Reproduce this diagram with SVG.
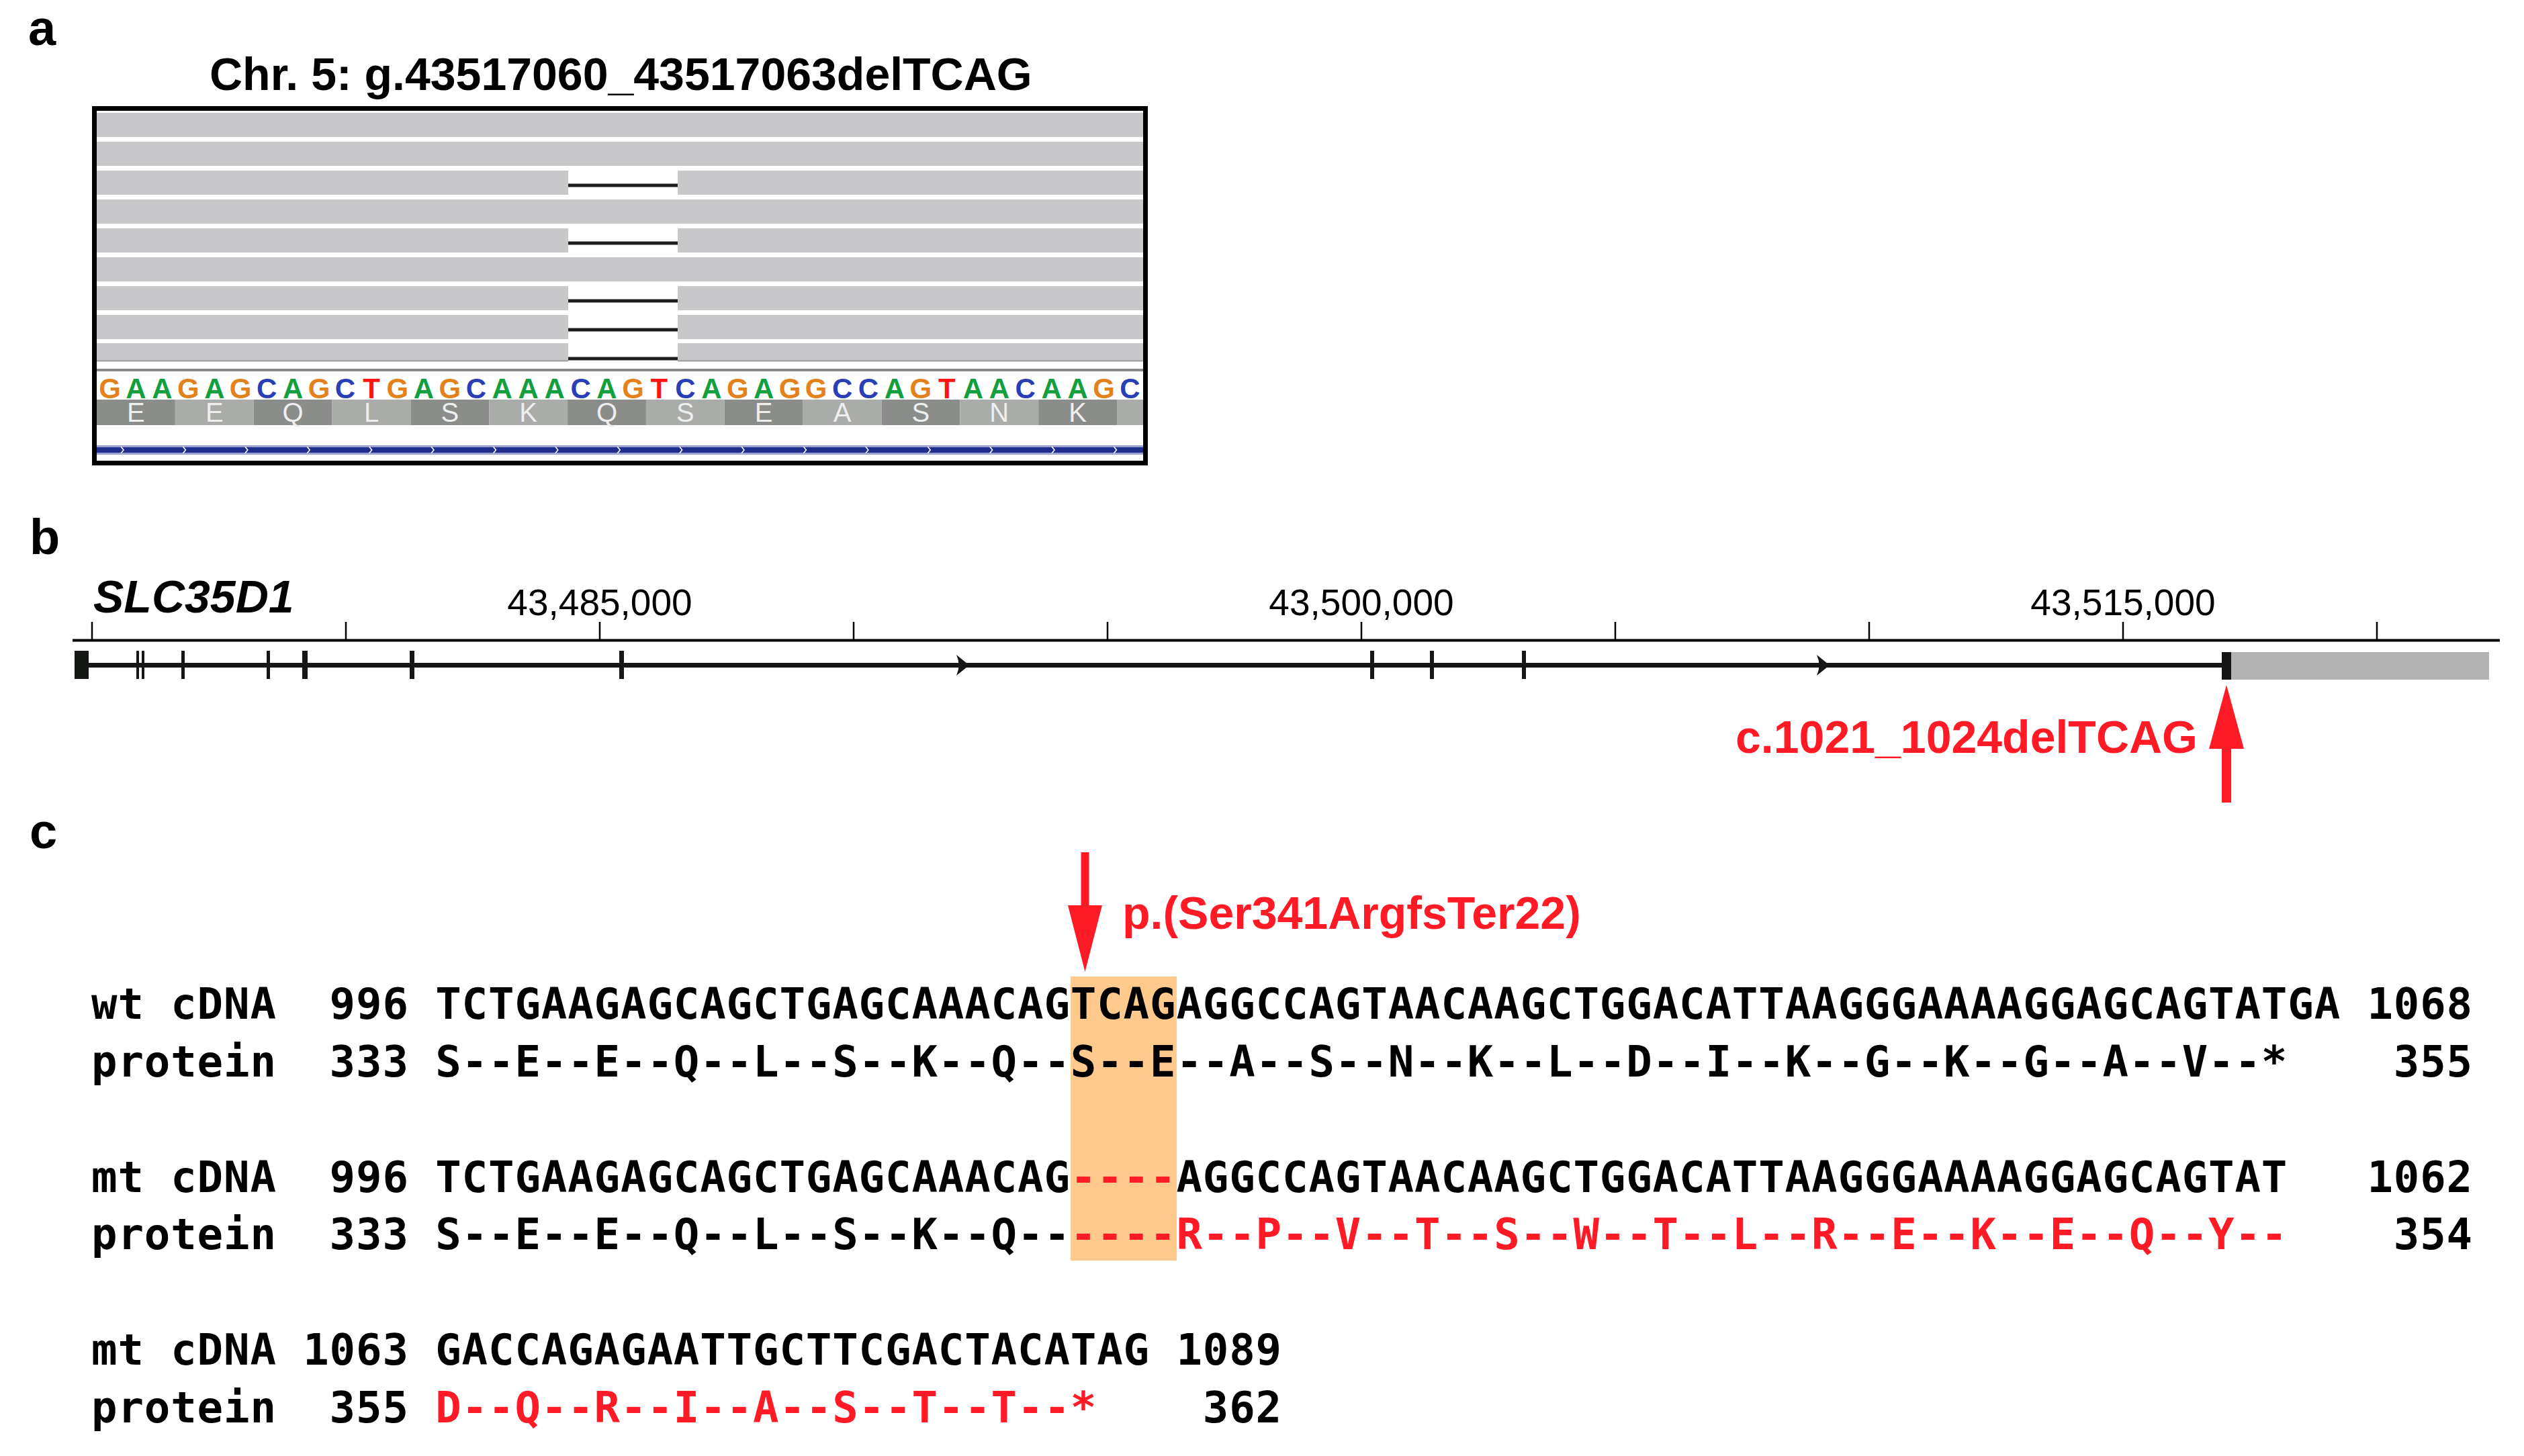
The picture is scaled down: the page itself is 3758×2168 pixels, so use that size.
<svg xmlns="http://www.w3.org/2000/svg" width="3758" height="2168" viewBox="0 0 3758 2168">
<style>
.lbl{font-family:"Liberation Sans",Arial,sans-serif;font-weight:bold;font-size:74px;fill:#000}
.ttl{font-family:"Liberation Sans",Arial,sans-serif;font-weight:bold;font-size:68px;fill:#000}
.red{font-family:"Liberation Sans",Arial,sans-serif;font-weight:bold;font-size:68px;fill:#FF1A25}
.tick{font-family:"Liberation Sans",Arial,sans-serif;font-size:55px;fill:#000;text-anchor:middle}
.gene{font-family:"Liberation Sans",Arial,sans-serif;font-weight:bold;font-style:italic;font-size:68px;fill:#000}
.mono{font-family:"DejaVu Sans Mono","Liberation Mono",monospace;font-weight:bold;font-size:64px;letter-spacing:0.87px;fill:#000}
.r{fill:#FF1A25}
.read{fill:#C8C7C9}
.base{font-family:"Liberation Sans",Arial,sans-serif;font-weight:bold;font-size:42px;text-anchor:middle}
.A{fill:#12A03E}.C{fill:#2A3FB5}.G{fill:#E3821C}.T{fill:#FF1414}
.aa{font-family:"Liberation Sans",Arial,sans-serif;font-size:40px;fill:#EEEEEE;text-anchor:middle}
.dk{fill:#8B8D8B}.lt{fill:#AAACAA}
.del{stroke:#1E1E1E;stroke-width:5}
.exon{fill:#151715}
</style>

<g id="panel-a">
  <text class="lbl" x="42" y="67">a</text>
  <text class="ttl" x="312" y="134">Chr. 5: g.43517060_43517063delTCAG</text>
  <g id="igv-box">
    <rect x="140.5" y="161.5" width="1565" height="528" fill="#FFFFFF" stroke="#000" stroke-width="7"/>
    <!-- reads -->
    <rect class="read" x="144" y="168" width="1558" height="36"/>
    <rect class="read" x="144" y="211" width="1558" height="36"/>
    <rect class="read" x="144" y="254" width="702" height="36"/>
    <rect class="read" x="1009" y="254" width="693" height="36"/>
    <rect class="read" x="144" y="297" width="1558" height="36"/>
    <rect class="read" x="144" y="340" width="702" height="36"/>
    <rect class="read" x="1009" y="340" width="693" height="36"/>
    <rect class="read" x="144" y="383" width="1558" height="36"/>
    <rect class="read" x="144" y="426" width="702" height="36"/>
    <rect class="read" x="1009" y="426" width="693" height="36"/>
    <rect class="read" x="144" y="469" width="702" height="36"/>
    <rect class="read" x="1009" y="469" width="693" height="36"/>
    <rect class="read" x="144" y="511" width="702" height="27"/>
    <rect class="read" x="1009" y="511" width="693" height="27"/>
    <rect x="144" y="536" width="702" height="2.5" fill="#A5A5A7"/>
    <rect x="1009" y="536" width="693" height="2.5" fill="#A5A5A7"/>
    <line class="del" x1="846" y1="276" x2="1009" y2="276"/>
    <line class="del" x1="846" y1="362" x2="1009" y2="362"/>
    <line class="del" x1="846" y1="448" x2="1009" y2="448"/>
    <line class="del" x1="846" y1="491" x2="1009" y2="491"/>
    <line class="del" x1="846" y1="534" x2="1009" y2="534"/>
    <rect x="144" y="549" width="1558" height="4" fill="#8A8A8A"/>
    <!-- amino acid band -->
    <rect class="dk" x="144" y="595" width="116.85" height="38"/>
    <rect class="lt" x="260.85" y="595" width="116.85" height="38"/>
    <rect class="dk" x="377.7" y="595" width="116.85" height="38"/>
    <rect class="lt" x="494.55" y="595" width="116.85" height="38"/>
    <rect class="dk" x="611.4" y="595" width="116.85" height="38"/>
    <rect class="lt" x="728.25" y="595" width="116.85" height="38"/>
    <rect class="dk" x="845.1" y="595" width="116.85" height="38"/>
    <rect class="lt" x="961.95" y="595" width="116.85" height="38"/>
    <rect class="dk" x="1078.8" y="595" width="116.85" height="38"/>
    <rect class="lt" x="1195.65" y="595" width="116.85" height="38"/>
    <rect class="dk" x="1312.5" y="595" width="116.85" height="38"/>
    <rect class="lt" x="1429.35" y="595" width="116.85" height="38"/>
    <rect class="dk" x="1546.2" y="595" width="116.85" height="38"/>
    <rect class="lt" x="1663.05" y="595" width="38.95" height="38"/>
    <text class="aa" y="628"><tspan x="202.4">E</tspan><tspan x="319.3">E</tspan><tspan x="436.1">Q</tspan><tspan x="553">L</tspan><tspan x="669.8">S</tspan><tspan x="786.7">K</tspan><tspan x="903.5">Q</tspan><tspan x="1020.4">S</tspan><tspan x="1137.2">E</tspan><tspan x="1254.1">A</tspan><tspan x="1370.9">S</tspan><tspan x="1487.8">N</tspan><tspan x="1604.6">K</tspan></text>
    <!-- reference bases -->
    <text class="base" y="593"><tspan class="G" x="163.5">G</tspan><tspan class="A" x="202.4">A</tspan><tspan class="A" x="241.4">A</tspan><tspan class="G" x="280.3">G</tspan><tspan class="A" x="319.3">A</tspan><tspan class="G" x="358.2">G</tspan><tspan class="C" x="397.2">C</tspan><tspan class="A" x="436.1">A</tspan><tspan class="G" x="475.1">G</tspan><tspan class="C" x="514">C</tspan><tspan class="T" x="553">T</tspan><tspan class="G" x="591.9">G</tspan><tspan class="A" x="630.9">A</tspan><tspan class="G" x="669.8">G</tspan><tspan class="C" x="708.8">C</tspan><tspan class="A" x="747.7">A</tspan><tspan class="A" x="786.7">A</tspan><tspan class="A" x="825.6">A</tspan><tspan class="C" x="864.6">C</tspan><tspan class="A" x="903.5">A</tspan><tspan class="G" x="942.5">G</tspan><tspan class="T" x="981.4">T</tspan><tspan class="C" x="1020.4">C</tspan><tspan class="A" x="1059.3">A</tspan><tspan class="G" x="1098.3">G</tspan><tspan class="A" x="1137.2">A</tspan><tspan class="G" x="1176.2">G</tspan><tspan class="G" x="1215.1">G</tspan><tspan class="C" x="1254.1">C</tspan><tspan class="C" x="1293">C</tspan><tspan class="A" x="1332">A</tspan><tspan class="G" x="1370.9">G</tspan><tspan class="T" x="1409.9">T</tspan><tspan class="A" x="1448.8">A</tspan><tspan class="A" x="1487.8">A</tspan><tspan class="C" x="1526.7">C</tspan><tspan class="A" x="1565.7">A</tspan><tspan class="A" x="1604.6">A</tspan><tspan class="G" x="1643.6">G</tspan><tspan class="C" x="1682.5">C</tspan></text>
    <!-- gene track -->
    <rect x="144" y="663" width="1558" height="14" fill="#9AA0D0"/>
    <rect x="144" y="666" width="1558" height="8" fill="#1F2D8C"/>
    <path d="M180,665 L184,670 L180,675 M272.4,665 L276.4,670 L272.4,675 M364.8,665 L368.8,670 L364.8,675 M457.2,665 L461.2,670 L457.2,675 M549.6,665 L553.6,670 L549.6,675 M642,665 L646,670 L642,675 M734.4,665 L738.4,670 L734.4,675 M826.8,665 L830.8,670 L826.8,675 M919.2,665 L923.2,670 L919.2,675 M1011.6,665 L1015.6,670 L1011.6,675 M1104,665 L1108,670 L1104,675 M1196.4,665 L1200.4,670 L1196.4,675 M1288.8,665 L1292.8,670 L1288.8,675 M1381.2,665 L1385.2,670 L1381.2,675 M1473.6,665 L1477.6,670 L1473.6,675 M1566,665 L1570,670 L1566,675 M1658.4,665 L1662.4,670 L1658.4,675" fill="none" stroke="#FFFFFF" stroke-width="1.6"/>
  </g>
</g>

<g id="panel-b">
  <text class="lbl" x="44" y="825">b</text>
  <text class="gene" x="139" y="912">SLC35D1</text>
  <g id="axis">
    <rect x="108" y="951.5" width="3614" height="4" fill="#000"/>
    <path d="M137,926 V953 M515,926 V953 M893,926 V953 M1271,926 V953 M1649,926 V953 M2027,926 V953 M2405,926 V953 M2783,926 V953 M3161,926 V953 M3539,926 V953" stroke="#000" stroke-width="2.5"/>
    <text class="tick" x="893" y="916">43,485,000</text>
    <text class="tick" x="2027" y="916">43,500,000</text>
    <text class="tick" x="3161" y="916">43,515,000</text>
  </g>
  <g id="gene-model">
    <rect x="111" y="987" width="3200" height="7" fill="#151715"/>
    <rect class="exon" x="111" y="969" width="21" height="42"/>
    <rect class="exon" x="203" y="969" width="4" height="42"/>
    <rect class="exon" x="211" y="969" width="4" height="42"/>
    <rect class="exon" x="270" y="969" width="5" height="42"/>
    <rect class="exon" x="397" y="969" width="5" height="42"/>
    <rect class="exon" x="450" y="969" width="8" height="42"/>
    <rect class="exon" x="610" y="969" width="7" height="42"/>
    <rect class="exon" x="922" y="969" width="7" height="42"/>
    <rect class="exon" x="2040" y="969" width="6" height="42"/>
    <rect class="exon" x="2129" y="969" width="6" height="42"/>
    <rect class="exon" x="2266" y="969" width="6" height="42"/>
    <rect class="exon" x="3308" y="971" width="14" height="41"/>
    <rect x="3322" y="971" width="384" height="41" fill="#B3B3B3"/>
    <path d="M1424,975 Q1440,988 1443,990.5 Q1440,993 1424,1006 Q1431,990.5 1424,975 Z" fill="#151715"/>
    <path d="M2705,975 Q2721,988 2724,990.5 Q2721,993 2705,1006 Q2712,990.5 2705,975 Z" fill="#151715"/>
  </g>
  <text class="red" x="3272" y="1121" text-anchor="end">c.1021_1024delTCAG</text>
</g>

<g id="connectors">
  <path id="arrow-b" d="M3315,1020 L3341,1115 L3322,1115 L3322,1195 L3308,1195 L3308,1115 L3289,1115 Z" fill="#FF1A25"/>
  <path id="arrow-c" d="M1615.5,1447 L1641,1348 L1621.5,1348 L1621.5,1269 L1609.5,1269 L1609.5,1348 L1590,1348 Z" fill="#FF1A25"/>
</g>

<g id="panel-c">
  <text class="lbl" x="44" y="1263">c</text>
  <text class="red" x="1671" y="1383">p.(Ser341ArgfsTer22)</text>
  <rect id="highlight" x="1594" y="1454" width="158" height="423" fill="#FFCA8C"/>
  <text class="mono" y="1517"><tspan x="136">wt cDNA</tspan><tspan x="490.6">996</tspan><tspan x="648.2">TCTGAAGAGCAGCTGAGCAAACAGTCAGAGGCCAGTAACAAGCTGGACATTAAGGGAAAAGGAGCAGTATGA</tspan><tspan x="3524.4">1068</tspan></text>
  <text class="mono" y="1603"><tspan x="136">protein</tspan><tspan x="490.6">333</tspan><tspan x="648.2">S--E--E--Q--L--S--K--Q--S--E--A--S--N--K--L--D--I--K--G--K--G--A--V--*</tspan><tspan x="3563.8">355</tspan></text>
  <text class="mono" y="1775"><tspan x="136">mt cDNA</tspan><tspan x="490.6">996</tspan><tspan x="648.2">TCTGAAGAGCAGCTGAGCAAACAG</tspan><tspan class="r" x="1593.8">----</tspan><tspan x="1751.4">AGGCCAGTAACAAGCTGGACATTAAGGGAAAAGGAGCAGTAT</tspan><tspan x="3524.4">1062</tspan></text>
  <text class="mono" y="1860"><tspan x="136">protein</tspan><tspan x="490.6">333</tspan><tspan x="648.2">S--E--E--Q--L--S--K--Q--</tspan><tspan class="r" x="1593.8">----R--P--V--T--S--W--T--L--R--E--K--E--Q--Y--</tspan><tspan x="3563.8">354</tspan></text>
  <text class="mono" y="2032"><tspan x="136">mt cDNA</tspan><tspan x="451.2">1063</tspan><tspan x="648.2">GACCAGAGAATTGCTTCGACTACATAG</tspan><tspan x="1751.4">1089</tspan></text>
  <text class="mono" y="2118"><tspan x="136">protein</tspan><tspan x="490.6">355</tspan><tspan class="r" x="648.2">D--Q--R--I--A--S--T--T--*</tspan><tspan x="1790.8">362</tspan></text>
</g>
</svg>
